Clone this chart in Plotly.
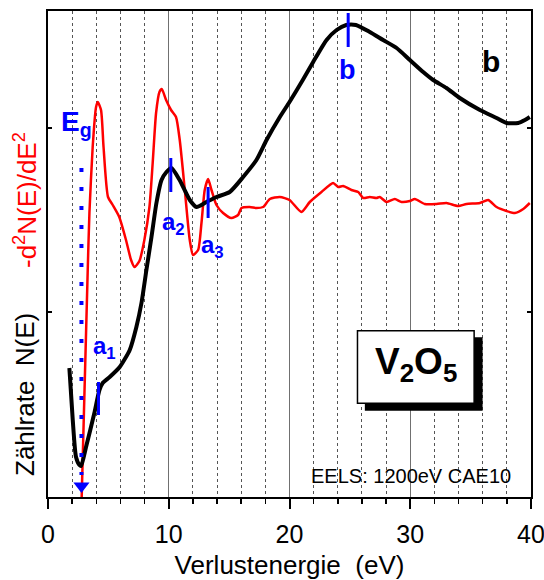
import plotly.graph_objects as go

# ---- data (energy in eV, intensity in arbitrary units) ----
black_E = [1.77, 2.05, 2.32, 2.6, 2.74, 3.15, 3.84, 4.26, 4.53, 5.11, 5.94, 6.77, 7.32, 7.74,
           8.15, 8.57, 8.98, 9.4, 9.81, 10.22, 10.9, 11.74, 12.3, 13.12, 13.95, 15.05, 16.16,
           17.26, 18.1, 19.2, 20.0, 21.1, 21.96, 23.07, 23.9, 24.7, 25.5, 26.65, 27.75, 28.87,
           29.97, 31.07, 31.9, 33.0, 34.1, 35.77, 37.15, 37.98, 38.94, 39.5, 39.9]
black_N = [129, 77, 40, 32, 31, 50, 84, 107, 114, 120, 130, 147, 170, 194,
           227, 260, 294, 317, 325, 329, 317, 297, 290, 295, 300, 305, 320,
           337, 357, 380, 395, 417, 435, 457, 467, 472, 472, 465, 457, 449,
           437, 425, 417, 409, 399, 387, 379, 374, 374, 377, 380]

red_E = [2.79, 3.29, 3.43, 3.7, 3.98, 4.12, 4.39, 4.6, 4.97, 5.36, 5.9, 6.46, 6.88, 7.16,
         7.57, 7.98, 8.4, 8.67, 8.95, 9.23, 9.42, 9.78, 10.19, 10.6, 10.91, 11.33, 11.74,
         12.01, 12.43, 12.71, 12.98, 13.26, 13.54, 13.95, 14.5, 15.19, 15.74, 16.02, 16.71,
         17.26, 17.81, 18.37, 19.2, 20.0, 20.99, 21.68, 22.65, 23.61, 24.03, 24.44, 25.13,
         25.69, 26.1, 26.65, 27.2, 27.48, 28.04, 28.72, 29.28, 29.97, 30.38, 31.2, 32.18,
         33.0, 33.97, 34.66, 35.77, 36.45, 37.15, 37.98, 38.67, 39.36, 39.9]
red_D2 = [0, 227, 284, 350, 390, 395, 387, 350, 300, 292, 280, 257, 237, 230,
          236, 257, 290, 334, 384, 405, 408, 397, 387, 380, 357, 307, 257,
          242, 247, 274, 307, 318, 307, 292, 284, 279, 282, 289, 290,
          289, 290, 298, 300, 297, 285, 295, 305, 314, 310, 311, 307,
          305, 299, 300, 299, 300, 295, 298, 295, 296, 298, 293, 293,
          294, 291, 293, 294, 297, 290, 286, 284, 288, 294]

x_ticks = [0, 10, 20, 30, 40]
x_ticklabels = ["0", "10", "20", "30", "40"]

# feature markers: (name, energy, y_low, y_high)
feat_names = ["a<sub>1</sub>", "a<sub>2</sub>", "a<sub>3</sub>", "b"]
feat_E = [4.18, 10.17, 13.26, 24.86]
feat_lo = [82, 305, 279, 450]
feat_hi = [115, 339, 310, 484]
feat_lab_E = [4.7, 10.4, 13.65, 24.83]
feat_lab_y = [150, 274, 251, 427]
feat_size = [24, 24, 24, 27]

Eg = 2.77

BLUE = "#0000ff"
FONT = "Arial, Liberation Sans, sans-serif"

fig = go.Figure()

fig.add_trace(go.Scatter(x=red_E, y=red_D2, mode="lines", line=dict(color="#ff0000", width=2.5, shape="spline", smoothing=0.6),
                         hoverinfo="skip", showlegend=False))
fig.add_trace(go.Scatter(x=black_E, y=black_N, mode="lines", line=dict(color="black", width=4, shape="spline", smoothing=0.6),
                         hoverinfo="skip", showlegend=False))

# Eg dotted arrow
fig.add_shape(type="line", x0=Eg, x1=Eg, y0=329, y1=22, line=dict(color=BLUE, width=4, dash="4px,15px"))
fig.add_trace(go.Scatter(x=[Eg], y=[11], mode="markers",
                         marker=dict(symbol="triangle-down", size=14, color=BLUE, line=dict(width=0)),
                         hoverinfo="skip", showlegend=False))
fig.add_annotation(x=0.9, y=374, text="<b>E<sub>g</sub></b>", showarrow=False, xanchor="left", yanchor="middle",
                   font=dict(family=FONT, size=28, color=BLUE))

# feature ticks and labels
for name, e, lo, hi, le, ly, fs in zip(feat_names, feat_E, feat_lo, feat_hi, feat_lab_E, feat_lab_y, feat_size):
    fig.add_shape(type="line", x0=e, x1=e, y0=lo, y1=hi, line=dict(color=BLUE, width=3))
    fig.add_annotation(x=le, y=ly, text="<b>" + name + "</b>", showarrow=False, xanchor="center", yanchor="middle",
                       font=dict(family=FONT, size=fs, color=BLUE))

fig.add_annotation(x=36.68, y=436, text="<b>b</b>", showarrow=False, xanchor="center", yanchor="middle",
                   font=dict(family=FONT, size=30, color="black"))

# V2O5 box with shadow
fig.add_shape(type="rect", x0=26.24, x1=35.99, y0=86.3, y1=159.7, fillcolor="black", line=dict(width=0))
fig.add_shape(type="rect", x0=25.63, x1=35.29, y0=93.7, y1=166.3, fillcolor="white", line=dict(color="black", width=1.5))
fig.add_annotation(x=30.46, y=133, text="<b>V<sub>2</sub>O<sub>5</sub></b>", showarrow=False,
                   xanchor="center", yanchor="middle", font=dict(family=FONT, size=37, color="black"))

fig.add_annotation(x=30.1, y=21, text="EELS: 1200eV CAE10", showarrow=False, xanchor="center", yanchor="middle",
                   font=dict(family=FONT, size=20, color="black"))

# y-axis titles
fig.add_annotation(xref="paper", x=0, xshift=-23, y=102, text="Zählrate  N(E)", textangle=-90, showarrow=False,
                   xanchor="center", yanchor="middle", font=dict(family=FONT, size=26, color="black"))
fig.add_annotation(xref="paper", x=0, xshift=-23, y=297, text="-d<sup>2</sup>N(E)/dE<sup>2</sup>", textangle=-90,
                   showarrow=False, xanchor="center", yanchor="middle", font=dict(family=FONT, size=26, color="#ff0000"))

fig.update_layout(
    width=544, height=580,
    margin=dict(l=48, r=13, t=11, b=83, autoexpand=False),
    paper_bgcolor="white", plot_bgcolor="white",
    font=dict(family=FONT, color="black"),
    showlegend=False,
)
fig.update_xaxes(
    range=[0, 40], tickvals=x_ticks, ticktext=x_ticklabels,
    ticks="outside", ticklen=10, tickwidth=2, tickcolor="black",
    tickfont=dict(family=FONT, size=25, color="black"), ticklabelstandoff=4, ticklabeloverflow="allow",
    showline=True, linecolor="black", linewidth=2, mirror=True,
    showgrid=True, gridcolor="#707070", gridwidth=1,
    minor=dict(dtick=2, ticks="outside", ticklen=5, tickwidth=1.5, tickcolor="black",
               showgrid=True, gridcolor="#555555", griddash="dot", gridwidth=1),
    zeroline=False, automargin=False,
    title=dict(text="Verlustenergie  (eV)", font=dict(family=FONT, size=26, color="black"), standoff=20),
)
fig.update_yaxes(
    range=[0, 486], tickvals=[185, 369], showticklabels=False,
    ticks="inside", ticklen=4, tickwidth=1.5, tickcolor="black",
    showline=True, linecolor="black", linewidth=2, mirror="ticks",
    showgrid=False, zeroline=False, automargin=False,
)

# remove the default 8px page margin so the figure sits at the window origin
fig.write_html("out.html", config={"displayModeBar": False, "staticPlot": True},
               post_script="document.body.style.margin='0px';document.body.style.overflow='hidden';")
